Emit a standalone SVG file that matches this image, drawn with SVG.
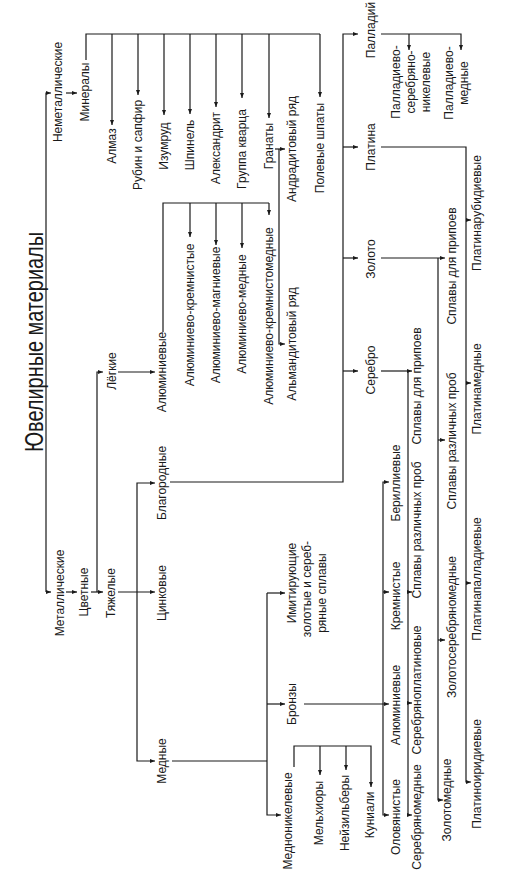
<svg xmlns="http://www.w3.org/2000/svg" width="516" height="880" viewBox="0 0 516 880">
<defs>
<style>
.t{font-family:"Liberation Sans",Arial,sans-serif;font-size:12px;fill:#1a1a1a;text-anchor:middle}
.ti{font-family:"Liberation Sans",Arial,sans-serif;font-size:26px;fill:#1a1a1a;text-anchor:middle}
.c{fill:none;stroke:#1a1a1a;stroke-width:1.2}
.ca{fill:none;stroke:#1a1a1a;stroke-width:1.2;marker-end:url(#a)}
</style>
<marker id="a" viewBox="0 0 6 6" refX="6" refY="3" markerWidth="5" markerHeight="5" orient="auto" markerUnits="userSpaceOnUse"><path d="M0,0.6 L6,3 L0,5.4 Z" fill="#1a1a1a"/></marker>
</defs>
<rect width="516" height="880" fill="#fff"/>
<g id="connectors">
<path class="ca" d="M46,592 V93 H51"/>
<path class="ca" d="M46,592 H51"/>
<path class="ca" d="M66,93 H77"/>
<path class="c" d="M86,60 V34 H320"/>
<path class="ca" d="M112,34 V125"/>
<path class="ca" d="M138,34 V95"/>
<path class="ca" d="M164,34 V115"/>
<path class="ca" d="M190,34 V114"/>
<path class="ca" d="M216,34 V107"/>
<path class="ca" d="M242,34 V98"/>
<path class="ca" d="M269,34 V118"/>
<path class="ca" d="M320,34 V97"/>
<path class="ca" d="M275,149 H285"/>
<path class="ca" d="M279,149 V344 H285"/>
<path class="ca" d="M66,592 H77"/>
<path class="ca" d="M91,592 H103"/>
<path class="ca" d="M97,592 V372 H103"/>
<path class="ca" d="M118,372 H155"/>
<path class="c" d="M163,332 V203 H269"/>
<path class="ca" d="M190,203 V237"/>
<path class="ca" d="M216,203 V245"/>
<path class="ca" d="M242,203 V248"/>
<path class="ca" d="M269,203 V215"/>
<path class="ca" d="M118,592 H155"/>
<path class="ca" d="M137,592 V483 H155"/>
<path class="ca" d="M137,592 V761 H155"/>
<path class="ca" d="M170,482 H343 V34 H358"/>
<path class="ca" d="M343,147 H358"/>
<path class="ca" d="M343,258 H358"/>
<path class="ca" d="M343,371 H358"/>
<path class="ca" d="M381,34 H461 V50"/>
<path class="ca" d="M409,34 V50"/>
<path class="ca" d="M381,147 H466 V782 H471"/>
<path class="ca" d="M466,220 H471"/>
<path class="ca" d="M466,383 H471"/>
<path class="ca" d="M466,583 H471"/>
<path class="ca" d="M381,258 H445"/>
<path class="ca" d="M438,258 V800 H443"/>
<path class="ca" d="M438,440 H445"/>
<path class="ca" d="M438,640 H445"/>
<path class="ca" d="M381,371 H412"/>
<path class="ca" d="M408,371 V815 H412"/>
<path class="ca" d="M408,592 H412"/>
<path class="ca" d="M408,703 H412"/>
<path class="c" d="M172,761 H267"/>
<path class="ca" d="M267,593 H285"/>
<path class="ca" d="M267,593 V815 H281"/>
<path class="ca" d="M267,704 H285"/>
<path class="ca" d="M304,704 H389"/>
<path class="ca" d="M383,704 V482 H389"/>
<path class="ca" d="M383,704 V815 H389"/>
<path class="ca" d="M383,592 H389"/>
<path class="ca" d="M294,767 V746 H371 V787"/>
<path class="ca" d="M320,746 V775"/>
<path class="ca" d="M346,746 V770"/>
</g>
<g id="title"><text class="ti" textLength="220" lengthAdjust="spacingAndGlyphs" transform="translate(43,342) rotate(-90)">Ювелирные материалы</text></g>
<g id="n-nemet"><text class="t" transform="translate(62,92) rotate(-90)">Неметаллические</text></g>
<g id="n-min"><text class="t" transform="translate(89,92) rotate(-90)">Минералы</text></g>
<g id="n-almaz"><text class="t" transform="translate(116,146) rotate(-90)">Алмаз</text></g>
<g id="n-rubin"><text class="t" transform="translate(142,145) rotate(-90)">Рубин и сапфир</text></g>
<g id="n-izumrud"><text class="t" transform="translate(168,146) rotate(-90)">Изумруд</text></g>
<g id="n-shpinel"><text class="t" transform="translate(194,145) rotate(-90)">Шпинель</text></g>
<g id="n-aleks"><text class="t" transform="translate(220,148) rotate(-90)">Александрит</text></g>
<g id="n-kvarc"><text class="t" transform="translate(246,149) rotate(-90)">Группа кварца</text></g>
<g id="n-granat"><text class="t" transform="translate(273,146) rotate(-90)">Гранаты</text></g>
<g id="n-polev"><text class="t" transform="translate(324,148) rotate(-90)">Полевые шпаты</text></g>
<g id="n-andr"><text class="t" transform="translate(296,149) rotate(-90)">Андрадитовый ряд</text></g>
<g id="n-alm"><text class="t" transform="translate(296,344) rotate(-90)">Альмандитовый ряд</text></g>
<g id="n-metal"><text class="t" transform="translate(64,593) rotate(-90)">Металлические</text></g>
<g id="n-cvet"><text class="t" transform="translate(88,592) rotate(-90)">Цветные</text></g>
<g id="n-legk"><text class="t" transform="translate(116,371) rotate(-90)">Лёгкие</text></g>
<g id="n-tyazh"><text class="t" transform="translate(115,593) rotate(-90)">Тяжелые</text></g>
<g id="n-alum"><text class="t" transform="translate(166,372) rotate(-90)">Алюминиевые</text></g>
<g id="n-al1"><text class="t" transform="translate(194,315) rotate(-90)">Алюминиево-кремнистые</text></g>
<g id="n-al2"><text class="t" transform="translate(220,315) rotate(-90)">Алюминиево-магниевые</text></g>
<g id="n-al3"><text class="t" transform="translate(246,314) rotate(-90)">Алюминиево-медные</text></g>
<g id="n-al4"><text class="t" transform="translate(273,316) rotate(-90)">Алюминиево-кремнистомедные</text></g>
<g id="n-blag"><text class="t" transform="translate(166,483) rotate(-90)">Благородные</text></g>
<g id="n-cink"><text class="t" transform="translate(166,593) rotate(-90)">Цинковые</text></g>
<g id="n-med"><text class="t" transform="translate(166,761) rotate(-90)">Медные</text></g>
<g id="n-imit"><text class="t" transform="translate(296,583) rotate(-90)">Имитирующие</text><text class="t" transform="translate(311,589) rotate(-90)">золотые и сереб-</text><text class="t" transform="translate(326,593) rotate(-90)">ряные сплавы</text></g>
<g id="n-bronz"><text class="t" transform="translate(296,704) rotate(-90)">Бронзы</text></g>
<g id="n-mednik"><text class="t" transform="translate(292,821) rotate(-90)">Медноникелевые</text></g>
<g id="n-melh"><text class="t" transform="translate(323,813) rotate(-90)">Мельхиоры</text></g>
<g id="n-neyz"><text class="t" transform="translate(349,813) rotate(-90)">Нейзильберы</text></g>
<g id="n-kun"><text class="t" transform="translate(374,815) rotate(-90)">Куниали</text></g>
<g id="n-beril"><text class="t" transform="translate(400,483) rotate(-90)">Бериллиевые</text></g>
<g id="n-kremn"><text class="t" transform="translate(400,596) rotate(-90)">Кремнистые</text></g>
<g id="n-alumb"><text class="t" transform="translate(400,705) rotate(-90)">Алюминиевые</text></g>
<g id="n-olov"><text class="t" transform="translate(400,817) rotate(-90)">Оловянистые</text></g>
<g id="n-pall"><text class="t" transform="translate(375,30) rotate(-90)">Палладий</text></g>
<g id="n-plat"><text class="t" transform="translate(375,147) rotate(-90)">Платина</text></g>
<g id="n-zol"><text class="t" transform="translate(375,259) rotate(-90)">Золото</text></g>
<g id="n-ser"><text class="t" transform="translate(375,370) rotate(-90)">Серебро</text></g>
<g id="n-psn"><text class="t" transform="translate(400,82) rotate(-90)">Палладиево-</text><text class="t" transform="translate(415,82) rotate(-90)">серебряно-</text><text class="t" transform="translate(430,82) rotate(-90)">никелевые</text></g>
<g id="n-pm"><text class="t" transform="translate(453,83) rotate(-90)">Палладиево-</text><text class="t" transform="translate(468,83) rotate(-90)">медные</text></g>
<g id="n-s1"><text class="t" transform="translate(421,386) rotate(-90)">Сплавы для припоев</text></g>
<g id="n-s2"><text class="t" transform="translate(421,530) rotate(-90)">Сплавы различных проб</text></g>
<g id="n-s3"><text class="t" transform="translate(421,690) rotate(-90)">Серебряноплатиновые</text></g>
<g id="n-s4"><text class="t" transform="translate(421,817) rotate(-90)">Серебряномедные</text></g>
<g id="n-g1"><text class="t" transform="translate(456,266) rotate(-90)">Сплавы для припоев</text></g>
<g id="n-g2"><text class="t" transform="translate(456,441) rotate(-90)">Сплавы различных проб</text></g>
<g id="n-g3"><text class="t" transform="translate(456,627) rotate(-90)">Золотосеребряномедные</text></g>
<g id="n-g4"><text class="t" transform="translate(451,800) rotate(-90)">Золотомедные</text></g>
<g id="n-p1"><text class="t" transform="translate(481,213) rotate(-90)">Платинарубидиевые</text></g>
<g id="n-p2"><text class="t" transform="translate(481,389) rotate(-90)">Платинамедные</text></g>
<g id="n-p3"><text class="t" transform="translate(481,579) rotate(-90)">Платинапалладиевые</text></g>
<g id="n-p4"><text class="t" transform="translate(481,774) rotate(-90)">Платиноиридиевые</text></g>
</svg>
